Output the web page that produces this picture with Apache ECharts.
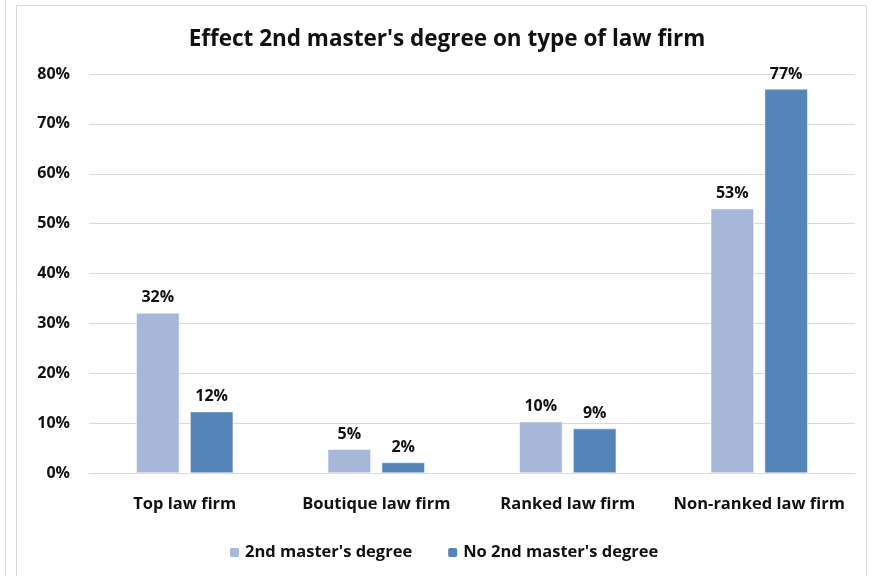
<!DOCTYPE html>
<html>
<head>
    <meta charset="utf-8">
    <title>Law firm chart</title>
    <style>
        html, body { margin: 0; padding: 0; background: #fff; }
        #main { width: 874px; height: 576px; }
    </style>
</head>
<body>
    <div id="main"></div>
    <script src="https://cdn.jsdelivr.net/npm/echarts@6/dist/echarts.min.js"></script>
    <script>
        // data (percent)
        var categories = ['Top law firm', 'Boutique law firm', 'Ranked law firm', 'Non-ranked law firm'];
        var withSecond = [32.1, 4.75, 10.3, 53.0];
        var withoutSecond = [12.3, 2.1, 8.9, 77.0];
        var seriesNames = ["2nd master's degree", "No 2nd master's degree"];

        var font = '"Open Sans", Lato, sans-serif';
        var chart = echarts.init(document.getElementById('main'));

        var labelOpt = {
            show: true,
            position: 'top',
            distance: 7,
            fontFamily: font,
            fontWeight: 'bold',
            fontSize: 16,
            color: '#111',
            formatter: function (p) { return Math.round(p.value) + '%'; }
        };

        var option = {
            animation: false,
            textStyle: { fontFamily: font },
            title: {
                text: "Effect 2nd master's degree on type of law firm",
                left: 442,
                textAlign: 'center',
                top: 23,
                textStyle: { fontFamily: font, fontWeight: 'bold', fontSize: 22.5, color: '#111' }
            },
            legend: {
                data: seriesNames,
                bottom: 10,
                left: 223,
                itemWidth: 11,
                itemHeight: 11,
                itemGap: 34,
                textStyle: { fontFamily: font, fontWeight: 'bold', fontSize: 16.5, color: '#111' }
            },
            grid: { left: 89, right: 19, top: 74, bottom: 103 },
            xAxis: {
                type: 'category',
                data: categories,
                axisLine: { lineStyle: { color: '#d9d9d9' } },
                axisTick: { show: false },
                axisLabel: {
                    interval: 0,
                    hideOverlap: false,
                    margin: 23,
                    fontFamily: font, fontWeight: 'bold', fontSize: 16.5, color: '#111'
                }
            },
            yAxis: {
                type: 'value',
                min: 0,
                max: 80,
                interval: 10,
                axisLine: { show: false },
                axisTick: { show: false },
                splitLine: { lineStyle: { color: '#d9d9d9', width: 1 } },
                axisLabel: {
                    margin: 19,
                    fontFamily: font, fontWeight: 'bold', fontSize: 16, color: '#111',
                    formatter: '{value}%'
                }
            },
            graphic: [
                {
                    type: 'rect',
                    shape: { x: 16.5, y: 5.5, width: 850, height: 580 },
                    style: { fill: 'none', stroke: '#d9d9d9', lineWidth: 1 },
                    silent: true
                },
                {
                    type: 'line',
                    shape: { x1: 5.5, y1: 0, x2: 5.5, y2: 576 },
                    style: { stroke: '#d9d9d9', lineWidth: 1 },
                    silent: true
                }
            ],
            series: [
                {
                    name: seriesNames[0],
                    type: 'bar',
                    data: withSecond,
                    barWidth: '22.5%',
                    barGap: '25%',
                    itemStyle: { color: '#a5b8d9', borderColor: '#fff', borderWidth: 0.5 },
                    label: labelOpt
                },
                {
                    name: seriesNames[1],
                    type: 'bar',
                    data: withoutSecond,
                    barWidth: '22.5%',
                    itemStyle: { color: '#5585b8', borderColor: '#fff', borderWidth: 0.5 },
                    label: labelOpt
                }
            ]
        };
        chart.setOption(option);
    </script>
</body>
</html>
